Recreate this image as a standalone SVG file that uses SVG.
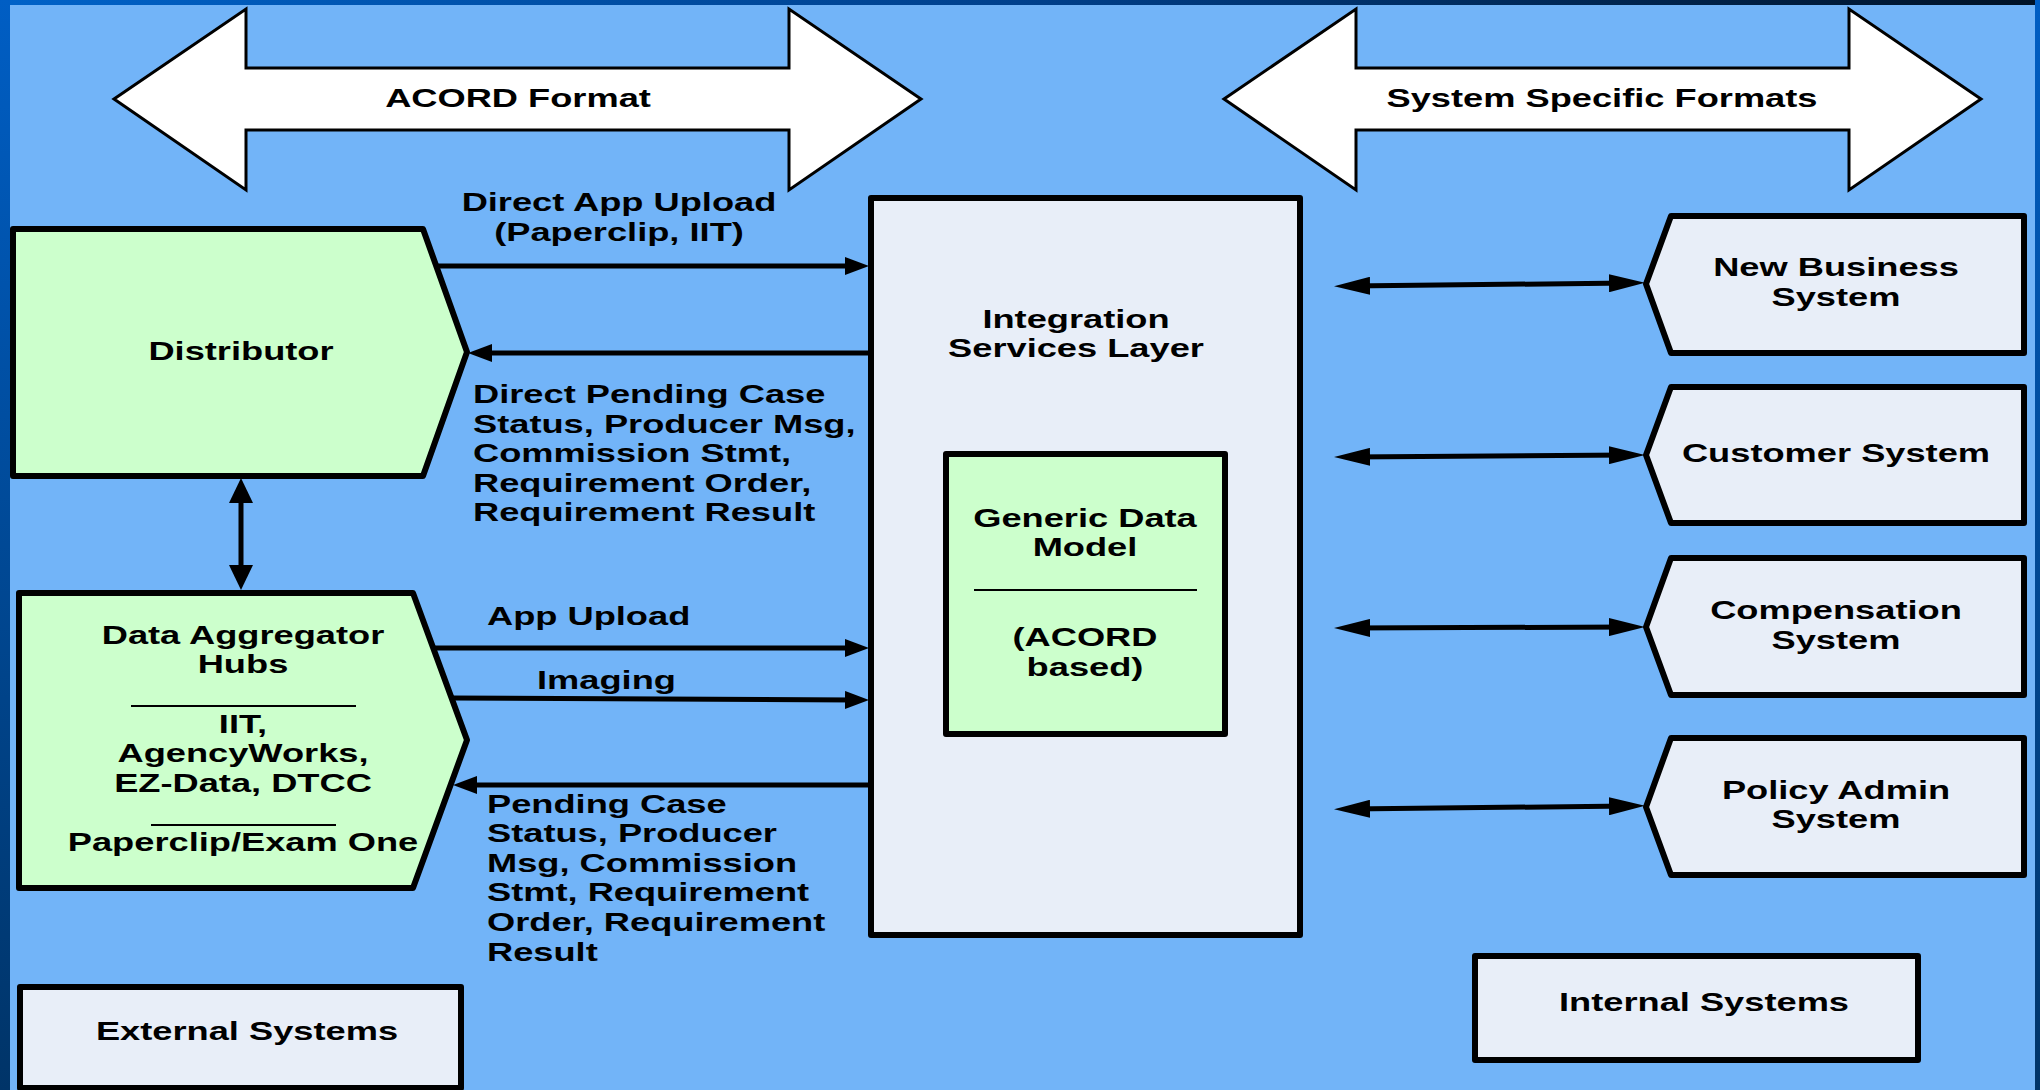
<svg xmlns="http://www.w3.org/2000/svg" width="2040" height="1090" viewBox="0 0 2040 1090">
  <defs>
    <linearGradient id="gTop" x1="0" y1="0" x2="1" y2="0">
      <stop offset="0" stop-color="#0062C8"/>
      <stop offset="0.5" stop-color="#00408C"/>
      <stop offset="1" stop-color="#001226"/>
    </linearGradient>
    <linearGradient id="gLeft" x1="0" y1="0" x2="0" y2="1">
      <stop offset="0" stop-color="#005EC4"/>
      <stop offset="1" stop-color="#003468"/>
    </linearGradient>
    <linearGradient id="gRight" x1="0" y1="0" x2="0" y2="1">
      <stop offset="0" stop-color="#005EC4"/>
      <stop offset="1" stop-color="#003468"/>
    </linearGradient>
    <marker id="ah" markerUnits="userSpaceOnUse" viewBox="0 0 24 18" markerWidth="24" markerHeight="18" refX="10" refY="9" orient="auto-start-reverse">
      <path d="M0,0 L24,9 L0,18 Z" fill="#000"/>
    </marker>
    <marker id="ahv" markerUnits="userSpaceOnUse" viewBox="0 0 25 24" markerWidth="25" markerHeight="24" refX="12" refY="12" orient="auto-start-reverse">
      <path d="M0,0 L25,12 L0,24 Z" fill="#000"/>
    </marker>
    <marker id="ahw" markerUnits="userSpaceOnUse" viewBox="0 0 36 18" markerWidth="36" markerHeight="18" refX="20" refY="9" orient="auto-start-reverse">
      <path d="M0,0 L36,9 L0,18 Z" fill="#000"/>
    </marker>
  </defs>
  <style>
    text { font-family: "Liberation Sans", Arial, sans-serif; font-weight: bold; font-size: 25px; fill: #000; }
    .c { text-anchor: middle; }
    .l { text-anchor: start; }
    .big { fill: #FFFFFF; stroke: #000; stroke-width: 3; stroke-linejoin: miter; }
    .green { fill: #CCFFCC; stroke: #000; stroke-width: 6; stroke-linejoin: round; }
    .pale { fill: #E8EEF8; stroke: #000; stroke-width: 6; stroke-linejoin: round; }
    .sep { stroke: #000; stroke-width: 2; }
    .conn line { stroke: #000; stroke-width: 5; fill: none; }
  </style>

  <!-- background -->
  <rect x="0" y="0" width="2040" height="1090" fill="#72B4F8"/>
  <rect x="0" y="0" width="2040" height="5" fill="url(#gTop)"/>
  <rect x="0" y="0" width="10" height="1090" fill="url(#gLeft)"/>
  <rect x="2035" y="0" width="5" height="1090" fill="url(#gRight)"/>

  <g id="acord-format">
    <polygon class="big" points="114,99 246,9 246,68 789,68 789,9 921,99 789,190 789,130 246,130 246,190"/>
    <text class="c" transform="translate(518 0) scale(1.45 1)" y="107">ACORD Format</text>
  </g>

  <g id="system-specific-formats">
    <polygon class="big" points="1224,99 1356,9 1356,68 1849,68 1849,9 1981,99 1849,190 1849,130 1356,130 1356,190"/>
    <text class="c" transform="translate(1602 0) scale(1.45 1)" y="107">System Specific Formats</text>
  </g>

  <g id="integration-services-layer">
    <rect class="pale" x="871" y="198" width="429" height="737"/>
    <text class="c" transform="translate(1076 0) scale(1.45 1)"><tspan x="0" y="328">Integration</tspan><tspan x="0" y="357">Services Layer</tspan></text>
  </g>

  <g id="generic-data-model">
    <rect class="green" x="946" y="454" width="279" height="280"/>
    <text class="c" transform="translate(1085 0) scale(1.45 1)"><tspan x="0" y="527">Generic Data</tspan><tspan x="0" y="556">Model</tspan></text>
    <line class="sep" x1="974" y1="590" x2="1197" y2="590"/>
    <text class="c" transform="translate(1085 0) scale(1.45 1)"><tspan x="0" y="646">(ACORD</tspan><tspan x="0" y="676">based)</tspan></text>
  </g>

  <g id="distributor">
    <polygon class="green" points="13,229 423,229 467,352 423,476 13,476"/>
    <text class="c" transform="translate(241 0) scale(1.45 1)" y="360">Distributor</text>
  </g>

  <g id="data-aggregator-hubs">
    <polygon class="green" points="19,593 413,593 467,740 413,888 19,888"/>
    <text class="c" transform="translate(243 0) scale(1.45 1)"><tspan x="0" y="644">Data Aggregator</tspan><tspan x="0" y="673">Hubs</tspan></text>
    <line class="sep" x1="131" y1="706" x2="356" y2="706"/>
    <text class="c" transform="translate(243 0) scale(1.45 1)"><tspan x="0" y="733">IIT,</tspan><tspan x="0" y="762">AgencyWorks,</tspan><tspan x="0" y="792">EZ-Data, DTCC</tspan></text>
    <line class="sep" x1="151" y1="825" x2="336" y2="825"/>
    <text class="c" transform="translate(243 0) scale(1.45 1)" y="851">Paperclip/Exam One</text>
  </g>

  <g id="external-systems">
    <rect class="pale" x="20" y="987" width="441" height="101"/>
    <text class="c" transform="translate(247 0) scale(1.45 1)" y="1040">External Systems</text>
  </g>

  <g id="internal-systems">
    <rect class="pale" x="1475" y="956" width="443" height="104"/>
    <text class="c" transform="translate(1704 0) scale(1.45 1)" y="1011">Internal Systems</text>
  </g>

  <g id="new-business-system">
    <polygon class="pale" points="1671,216 2024,216 2024,353 1671,353 1646,284"/>
    <text class="c" transform="translate(1836 0) scale(1.45 1)"><tspan x="0" y="276">New Business</tspan><tspan x="0" y="306">System</tspan></text>
  </g>

  <g id="customer-system">
    <polygon class="pale" points="1671,387 2024,387 2024,523 1671,523 1646,455"/>
    <text class="c" transform="translate(1836 0) scale(1.45 1)" y="462">Customer System</text>
  </g>

  <g id="compensation-system">
    <polygon class="pale" points="1671,558 2024,558 2024,695 1671,695 1646,627"/>
    <text class="c" transform="translate(1836 0) scale(1.45 1)"><tspan x="0" y="619">Compensation</tspan><tspan x="0" y="649">System</tspan></text>
  </g>

  <g id="policy-admin-system">
    <polygon class="pale" points="1671,738 2024,738 2024,875 1671,875 1646,807"/>
    <text class="c" transform="translate(1836 0) scale(1.45 1)"><tspan x="0" y="799">Policy Admin</tspan><tspan x="0" y="828">System</tspan></text>
  </g>

  <g id="connectors" class="conn">
    <line x1="437" y1="266" x2="855" y2="266" marker-end="url(#ah)"/>
    <line x1="869" y1="353" x2="482" y2="353" marker-end="url(#ah)"/>
    <line x1="434" y1="648" x2="855" y2="648" marker-end="url(#ah)"/>
    <line x1="452" y1="698" x2="855" y2="700" marker-end="url(#ah)"/>
    <line x1="869" y1="785" x2="467" y2="785" marker-end="url(#ah)"/>
    <line x1="241" y1="491" x2="241" y2="577" marker-start="url(#ahv)" marker-end="url(#ahv)"/>
    <line x1="1350" y1="286" x2="1629" y2="283" marker-start="url(#ahw)" marker-end="url(#ahw)"/>
    <line x1="1350" y1="457" x2="1629" y2="455" marker-start="url(#ahw)" marker-end="url(#ahw)"/>
    <line x1="1350" y1="628" x2="1629" y2="627" marker-start="url(#ahw)" marker-end="url(#ahw)"/>
    <line x1="1350" y1="809" x2="1629" y2="806" marker-start="url(#ahw)" marker-end="url(#ahw)"/>
  </g>

  <g id="connector-labels">
    <text class="c" transform="translate(619 0) scale(1.45 1)"><tspan x="0" y="211">Direct App Upload</tspan><tspan x="0" y="241">(Paperclip, IIT)</tspan></text>
    <text class="l" transform="translate(473 0) scale(1.45 1)"><tspan x="0" y="403">Direct Pending Case</tspan><tspan x="0" y="432.6">Status, Producer Msg,</tspan><tspan x="0" y="462.2">Commission Stmt,</tspan><tspan x="0" y="491.8">Requirement Order,</tspan><tspan x="0" y="521.4">Requirement Result</tspan></text>
    <text class="l" transform="translate(487 0) scale(1.45 1)" y="625">App Upload</text>
    <text class="l" transform="translate(537 0) scale(1.45 1)" y="689">Imaging</text>
    <text class="l" transform="translate(487 0) scale(1.45 1)"><tspan x="0" y="812.6">Pending Case</tspan><tspan x="0" y="842.2">Status, Producer</tspan><tspan x="0" y="871.8">Msg, Commission</tspan><tspan x="0" y="901.4">Stmt, Requirement</tspan><tspan x="0" y="931">Order, Requirement</tspan><tspan x="0" y="960.6">Result</tspan></text>
  </g>
</svg>
